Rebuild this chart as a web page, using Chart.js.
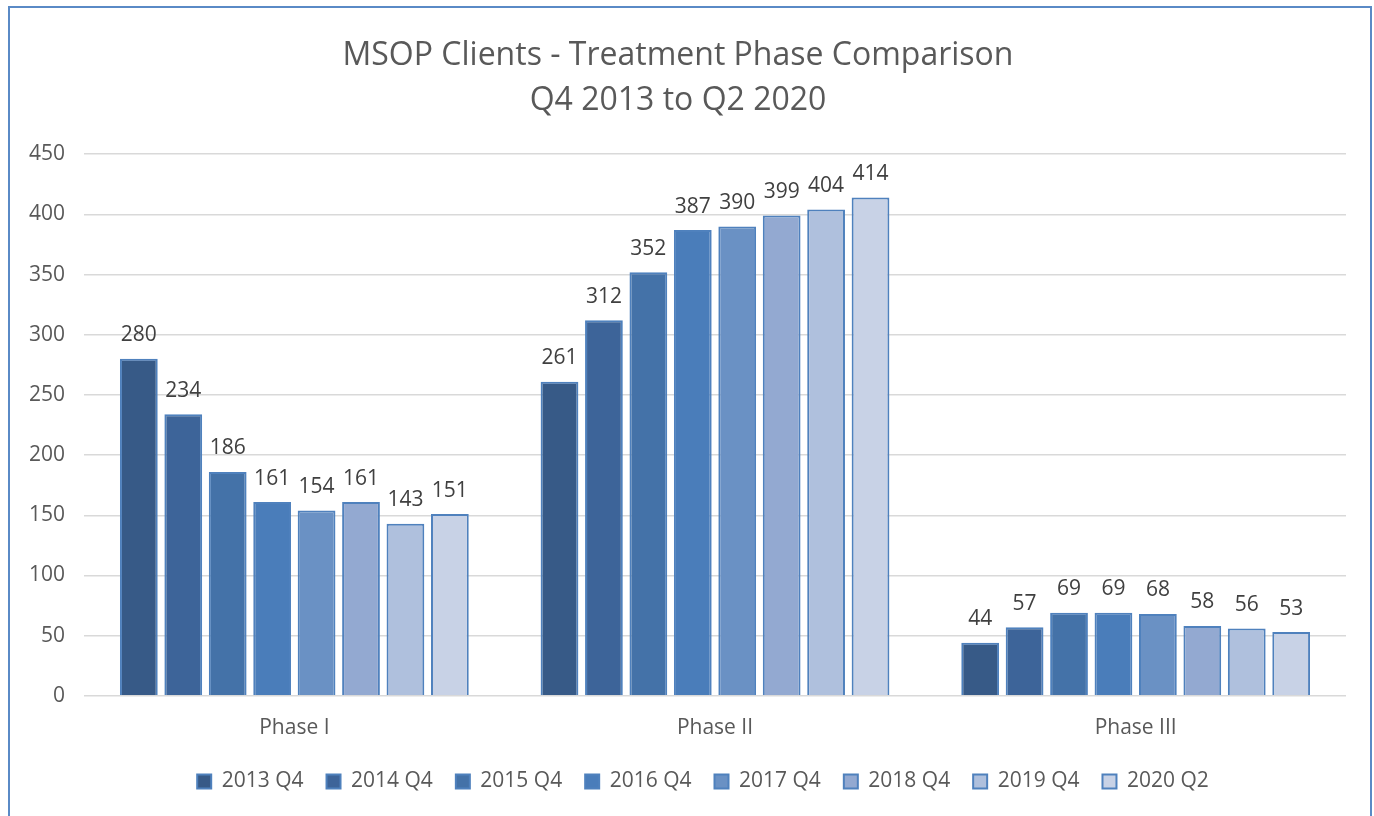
<html>
<head>
<script src="https://cdn.jsdelivr.net/npm/chart.js"></script>
<style>
	body { margin: 0; background: #fff; }
	#frame {
		position: absolute; left: 8px; top: 6px;
		width: 1360px; height: 830px;
		border: 2px solid #5a8ac6;
	}
</style>
</head>
<body>
<div id="frame">
	<canvas id="myChart"></canvas>
</div>
<script>
const phases = ['Phase I', 'Phase II', 'Phase III'];
const periods = ['2013 Q4', '2014 Q4', '2015 Q4', '2016 Q4', '2017 Q4', '2018 Q4', '2019 Q4', '2020 Q2'];
// one row per period: Phase I, Phase II, Phase III
const q2013 = [280, 261, 44];
const q2014 = [234, 312, 57];
const q2015 = [186, 352, 69];
const q2016 = [161, 387, 69];
const q2017 = [154, 390, 68];
const q2018 = [161, 399, 58];
const q2019 = [143, 404, 56];
const q2020 = [151, 414, 53];
const yTicks = [0, 50, 100, 150, 200, 250, 300, 350, 400, 450];

const values = [q2013, q2014, q2015, q2016, q2017, q2018, q2019, q2020];
const fills = ['#375a87', '#3d6499', '#4472a8', '#4a7dba', '#6a91c4', '#93a9d1', '#afc0dd', '#c8d2e6'];
const fontFamily = '"Open Sans", sans-serif';

// values on top of bars
const barLabels = {
	id: 'barLabels',
	afterDatasetsDraw(chart) {
		const ctx = chart.ctx;
		ctx.save();
		ctx.font = '21px ' + fontFamily;
		ctx.fillStyle = '#404040';
		ctx.textAlign = 'center';
		ctx.textBaseline = 'bottom';
		chart.data.datasets.forEach((ds, i) => {
			chart.getDatasetMeta(i).data.forEach((bar, j) => {
				ctx.fillText(ds.data[j], bar.x, bar.y - 13);
			});
		});
		ctx.restore();
	}
};

// nudge the legend row: closer to the axis labels and a bit to the right
const legendShift = {
	id: 'legendShift',
	afterLayout(chart) {
		const lg = chart.legend;
		lg.top -= 5;
		lg.bottom -= 5;
		lg.left += 25;
		lg.right += 25;
	}
};

const data = {
	labels: phases,
	datasets: periods.map((p, i) => ({
		label: p,
		data: values[i],
		backgroundColor: fills[i],
		borderColor: '#4f81bd',
		borderWidth: 2,
		categoryPercentage: 0.845,
		barPercentage: 0.85
	}))
};

const options = {
	animation: false,
	responsive: true,
	maintainAspectRatio: false,
	layout: {
		padding: { left: 0, right: 24, top: 10, bottom: 31 }
	},
	scales: {
		x: {
			grid: { display: false },
			border: { display: false },
			ticks: { color: '#595959', font: { family: fontFamily, size: 21 }, padding: 12 }
		},
		y: {
			min: 0,
			max: 450,
			afterBuildTicks: (scale) => { scale.ticks = yTicks.map(v => ({ value: v })); },
			grid: { color: '#d9d9d9', lineWidth: 1.5, drawTicks: false },
			border: { display: false },
			ticks: { color: '#595959', font: { family: fontFamily, size: 21 }, padding: 19 }
		}
	},
	plugins: {
		title: {
			display: true,
			text: ['MSOP Clients - Treatment Phase Comparison', 'Q4 2013 to Q2 2020'],
			color: '#595959',
			font: { family: fontFamily, size: 32, weight: 'normal', lineHeight: 1.41 },
			padding: { top: 15, bottom: 31 }
		},
		legend: {
			position: 'bottom',
			labels: {
				color: '#595959',
				font: { family: fontFamily, size: 21 },
				boxWidth: 14,
				boxHeight: 14,
				padding: 23
			}
		},
		tooltip: { enabled: false }
	}
};

new Chart(document.getElementById('myChart'), {
	type: 'bar',
	data,
	options,
	plugins: [barLabels, legendShift]
});
</script>
</body>
</html>
